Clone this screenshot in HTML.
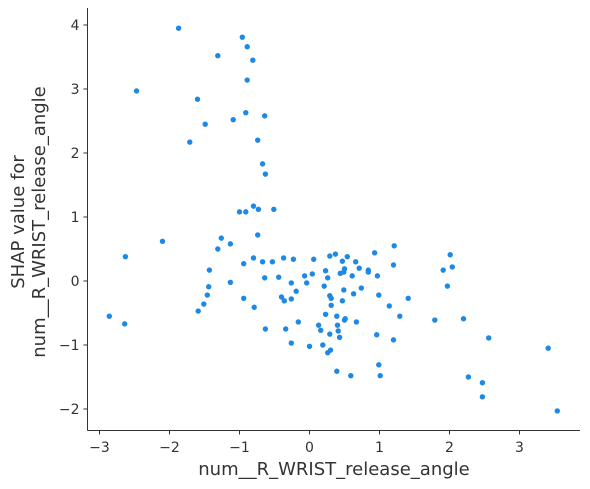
<!DOCTYPE html>
<html><head><meta charset="utf-8">
<style>
html,body{margin:0;padding:0;background:#fff;}
svg{display:block;font-family:"DejaVu Sans","Liberation Sans",sans-serif;}
</style></head>
<body>
<svg id="chart" width="590" height="489" viewBox="0 0 590 489" xmlns="http://www.w3.org/2000/svg"></svg>
<script>
const xTicks = [-3,-2,-1,0,1,2,3];
const yTicks = [-2,-1,0,1,2,3,4];
const xValues = [-1.87,-0.96,-0.89,-1.31,-0.81,-2.47,-0.89,-1.6,-0.91,-0.64,-1.49,-1.09,-1.71,-0.74,-0.67,-0.63,-1.0,-0.91,-0.8,-0.73,-0.51,-0.74,-2.1,-1.26,-1.13,-1.31,-0.94,-2.63,-1.43,-1.13,-0.8,-0.67,-0.53,-0.64,-1.44,-1.46,-1.51,-1.59,-0.94,-0.79,-0.63,-2.86,-2.64,-0.37,-0.23,-0.44,-0.26,-0.4,-0.36,-0.26,-0.19,-0.34,-0.26,0,-0.16,-0.07,0.04,0.06,-0.04,0.21,0.23,0.13,0.16,0.19,0.26,0.3,0.29,0.23,0.31,0.29,0.26,0.29,0.37,0.31,0.39,0.4,0.39,0.41,0.43,0.44,0.49,0.49,0.47,0.47,0.5,0.51,0.5,0.54,0.59,0.61,0.63,0.66,0.67,0.71,0.74,0.84,0.84,0.93,0.97,0.96,0.99,0.99,1.01,1.14,1.2,1.2,1.21,1.29,1.41,1.79,1.91,1.97,2.01,2.04,2.2,2.27,2.47,2.47,2.56,3.41,3.54];
const yValues = [3.95,3.81,3.66,3.52,3.45,2.97,3.14,2.84,2.63,2.58,2.45,2.52,2.17,2.2,1.83,1.67,1.08,1.08,1.17,1.12,1.12,0.72,0.62,0.67,0.58,0.5,0.27,0.38,0.17,-0.02,0.36,0.3,0.3,0.05,-0.09,-0.22,-0.36,-0.47,-0.27,-0.41,-0.75,-0.55,-0.67,0.36,0.34,0.06,-0.03,-0.25,-0.31,-0.28,-0.16,-0.75,-0.97,-1.02,-0.64,0.08,0.11,0.34,-0.03,-0.08,0.16,-0.69,-0.77,-1.0,-1.12,-1.08,-0.83,-0.52,-0.38,-0.23,0.05,0.39,0.42,-0.27,-0.55,-0.69,-1.41,-0.78,-0.88,0.12,0.14,-0.14,-0.31,0.31,0.19,-0.59,-0.61,0.38,-1.48,0.08,-0.2,0.3,-0.64,0.2,-0.11,0.17,0.14,0.44,0.08,-0.84,-0.22,-1.31,-1.48,-0.39,-0.92,0.25,0.55,-0.55,-0.27,-0.61,0.17,-0.08,0.41,0.22,-0.59,-1.5,-1.59,-1.81,-0.89,-1.05,-2.03];

const NS = "http://www.w3.org/2000/svg";
const svg = document.getElementById('chart');
const plot = {left:87.5, right:580, top:8, bottom:430.5};
const xScale = v => 309.5 + v*70;
const yScale = v => 281 - v*64;
const axisColor = "#333333";
function mk(tag, attrs){const e=document.createElementNS(NS,tag);for(const k in attrs)e.setAttribute(k,attrs[k]);svg.appendChild(e);return e;}

for(let i=0;i<xValues.length;i++){
  const c = mk('circle',{cx:xScale(xValues[i]),cy:yScale(yValues[i]),r:2.7,fill:"#1e88e5"});
  
  
}

const ys = mk('line',{x1:plot.left,x2:plot.left,y1:plot.top,y2:plot.bottom,stroke:axisColor,"stroke-width":1});


const xs = mk('line',{x1:plot.left,x2:plot.right,y1:plot.bottom,y2:plot.bottom,stroke:axisColor,"stroke-width":1});



xTicks.forEach(t=>{
  const x = xScale(t);
  const tk = mk('line',{x1:x,x2:x,y1:plot.bottom,y2:plot.bottom+4,stroke:axisColor,"stroke-width":1});
  
  
  const tx = mk('text',{x:x,y:452,"text-anchor":"middle","font-size":14,fill:axisColor});
  tx.textContent = String(t).replace('-','\u2212');
  
  
});
yTicks.forEach(t=>{
  const y = yScale(t);
  const tk = mk('line',{x1:plot.left-4,x2:plot.left,y1:y,y2:y,stroke:axisColor,"stroke-width":1});
  
  
  const tx = mk('text',{x:plot.left-8,y:y+5,"text-anchor":"end","font-size":14,fill:axisColor});
  tx.textContent = String(t).replace('-','\u2212');
  
  
});

const xt = mk('text',{x:334,y:475,"text-anchor":"middle","font-size":18,fill:axisColor});
xt.textContent = "num__R_WRIST_release_angle";



const yt = mk('text',{transform:"translate(24,222) rotate(-90)","text-anchor":"middle","font-size":18,fill:axisColor});


const t1 = document.createElementNS(NS,'tspan'); t1.setAttribute('x',0); t1.setAttribute('dy',0); t1.textContent="SHAP value for"; yt.appendChild(t1);
const t2 = document.createElementNS(NS,'tspan'); t2.setAttribute('x',0); t2.setAttribute('dy',21); t2.textContent="num__R_WRIST_release_angle"; yt.appendChild(t2);
</script>
</body></html>
